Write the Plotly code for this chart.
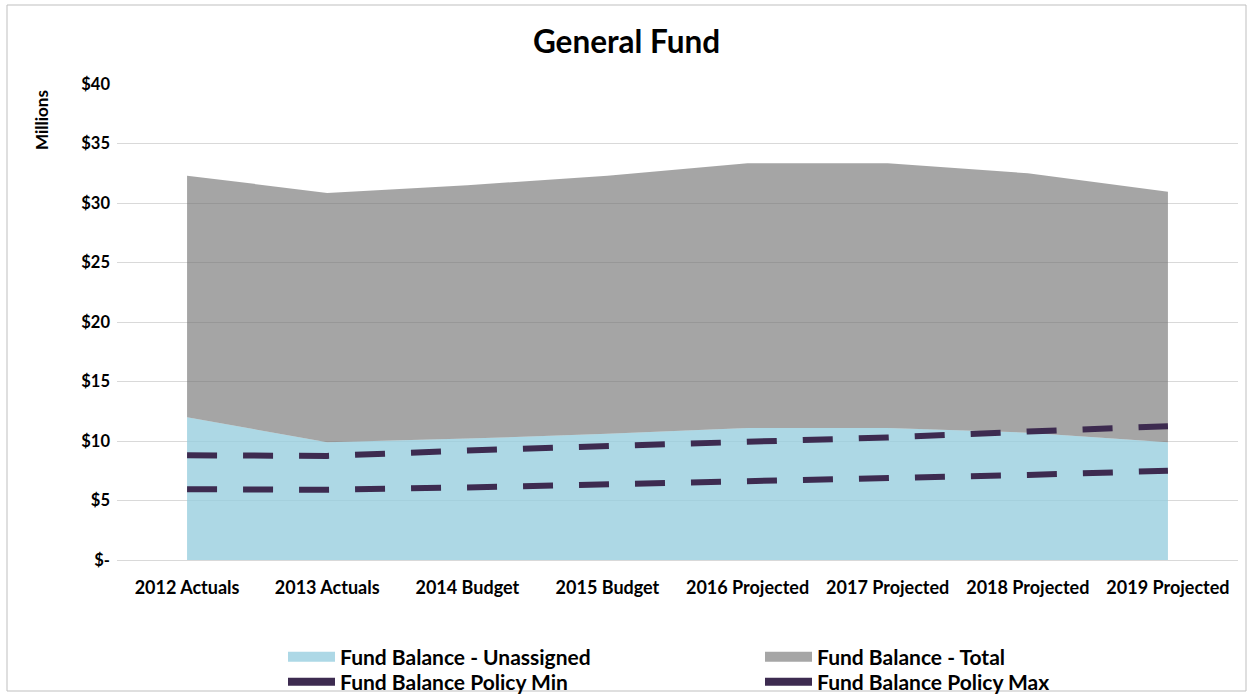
import plotly.graph_objects as go

categories = ["2012 Actuals", "2013 Actuals", "2014 Budget", "2015 Budget",
              "2016 Projected", "2017 Projected", "2018 Projected", "2019 Projected"]
unassigned = [12.0, 9.9, 10.2, 10.6, 11.1, 11.1, 10.7, 9.9]
total = [32.3, 30.85, 31.5, 32.3, 33.35, 33.35, 32.5, 30.95]
policy_min = [5.95, 5.9, 6.1, 6.35, 6.6, 6.85, 7.15, 7.5]
policy_max = [8.8, 8.75, 9.2, 9.55, 9.95, 10.3, 10.8, 11.25]
y_ticks = [0, 5, 10, 15, 20, 25, 30, 35, 40]
y_ticklabels = ["$-", "$5", "$10", "$15", "$20", "$25", "$30", "$35", "$40"]

FONT = "Lato"
W, H = 1252, 694
L, R, T, B = 117, 14, 84, 134
pw, ph = W - L - R, H - T - B

x = list(range(len(categories)))

BLUE = "rgba(150,205,222,0.78)"
GRAY = "rgba(110,110,110,0.62)"
DARK = "#3d2b50"

fig = go.Figure()
# area fills (legend shown via proxy traces)
fig.add_trace(go.Scatter(
    x=x, y=unassigned, name="Fund Balance - Unassigned", mode="lines",
    line=dict(width=0, color=BLUE), fill="tozeroy", fillcolor=BLUE,
    hoverinfo="skip", showlegend=False))
fig.add_trace(go.Scatter(
    x=x, y=total, name="Fund Balance - Total", mode="lines",
    line=dict(width=0, color=GRAY), fill="tonexty", fillcolor=GRAY,
    hoverinfo="skip", showlegend=False))
fig.add_trace(go.Scatter(
    x=x, y=policy_min, name="Fund Balance Policy Min", mode="lines",
    line=dict(width=6, color=DARK, dash="30px,26px"), hoverinfo="skip", showlegend=False))
fig.add_trace(go.Scatter(
    x=x, y=policy_max, name="Fund Balance Policy Max", mode="lines",
    line=dict(width=6, color=DARK, dash="30px,26px"), hoverinfo="skip", showlegend=False))

# legend proxies: row 1 in legend, row 2 in legend2
leg = [("Fund Balance - Unassigned", "rgb(173,216,230)", 12, "legend"),
       ("Fund Balance - Total", "rgb(166,166,166)", 12, "legend"),
       ("Fund Balance Policy Min", DARK, 8, "legend2"),
       ("Fund Balance Policy Max", DARK, 8, "legend2")]
for name, col, w, lg in leg:
    fig.add_trace(go.Scatter(x=[None], y=[None], mode="lines", name="<b>%s</b>" % name,
                             line=dict(color=col, width=w), hoverinfo="skip", legend=lg))


def px_x(p):
    return (p - L) / pw


def px_y(p):
    return (H - B - p) / ph


def legend_row(yc):
    return dict(orientation="h", xref="container", yref="container",
                x=283 / W, xanchor="left", y=1 - yc / H, yanchor="middle",
                entrywidth=415, entrywidthmode="pixels", itemwidth=47,
                traceorder="normal", font=dict(size=21, family=FONT, color="#000000"),
                bgcolor="rgba(0,0,0,0)", itemclick=False, itemdoubleclick=False)


fig.update_layout(
    width=W, height=H, autosize=False,
    margin=dict(l=L, r=R, t=T, b=B, autoexpand=False),
    paper_bgcolor="white", plot_bgcolor="white",
    font=dict(family=FONT, color="#000000"),
    title=dict(text="<b>General Fund</b>", x=(7 + 1246) / 2 / W, xref="container",
               y=1 - 42 / H, yref="container", xanchor="center", yanchor="middle",
               font=dict(size=31.5, family=FONT, color="#000000")),
    xaxis=dict(range=[-0.5, 7.5], tickvals=x, ticktext=["<b>%s</b>" % c for c in categories],
               showgrid=False, zeroline=False, showline=True, linecolor="#d9d9d9",
               linewidth=1, ticks="", ticklabelstandoff=11,
               tickfont=dict(size=18, family=FONT, color="#000000")),
    yaxis=dict(range=[0, 40], tickvals=y_ticks, ticktext=["<b>%s</b>" % t for t in y_ticklabels],
               showgrid=True, gridcolor="#d9d9d9", gridwidth=1, zeroline=False,
               showline=False, ticks="", ticklabelstandoff=6,
               tickfont=dict(size=16.5, family=FONT, color="#000000")),
    showlegend=True,
    legend=legend_row(657),
    legend2=legend_row(682),
    shapes=[dict(type="rect", xref="paper", yref="paper",
                 x0=px_x(7), x1=px_x(1246), y0=px_y(691), y1=px_y(5),
                 line=dict(color="#bfbfbf", width=1), fillcolor="rgba(0,0,0,0)", layer="below")],
    annotations=[dict(text="<b>Millions</b>", textangle=-90, xref="paper", yref="paper",
                      x=px_x(42), y=px_y(88), xanchor="center", yanchor="top",
                      showarrow=False, font=dict(size=17, family=FONT, color="#000000"))],
)

fig.write_html("out.html",
               config={"responsive": False, "displayModeBar": False},
               post_script="document.body.style.margin='0';document.body.style.overflow='hidden';")
